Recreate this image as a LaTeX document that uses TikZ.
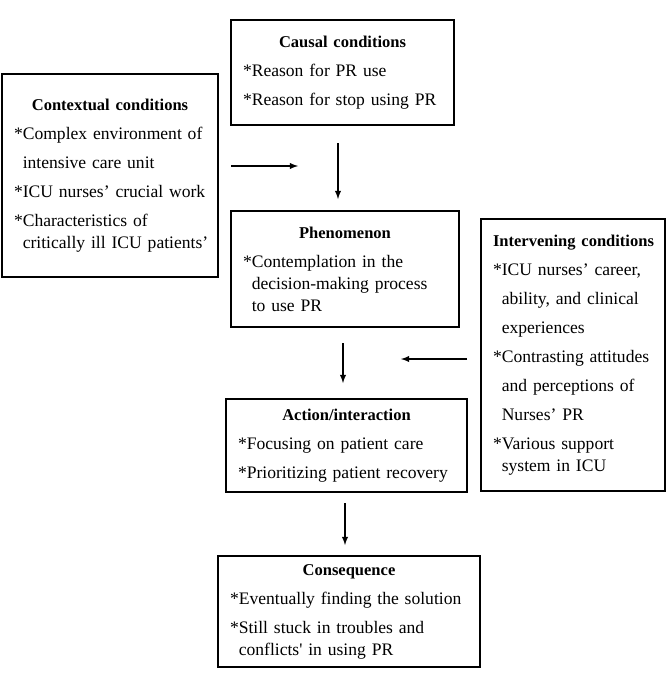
\documentclass[tikz,border=0pt]{standalone}
\usepackage{fontspec}
\setmainfont{Liberation Serif}
\usetikzlibrary{arrows}
\tikzstyle{condbox} = [rectangle, 
draw=black, 
line width=1.1pt,
inner xsep=0.24cm,
align=left,
font=\fontsize{10}{12.5}\selectfont]
\tikzstyle{arrow} = [line width=0.6pt,->,>=latex]
\newcommand{\boxtitle}[1]{\hspace*{\fill}\mbox{\bfseries\fontsize{9.4}{12.5}\selectfont #1}\hspace*{\fill}\null}
\begin{document}
\begin{tikzpicture}[x=0.02cm, y=-0.02cm]
            \useasboundingbox (0,0) rectangle (667,676);
            \node (caus) [condbox, text width=3.98cm, minimum height=2.10cm] at (342.5,72.5) {\boxtitle{Causal conditions}\\[4pt]*Reason for PR use\\[4pt]*Reason for stop using PR};
            \node (ctx) [condbox, text width=3.84cm, minimum height=4.06cm] at (110,175.5) {\boxtitle{Contextual conditions}\\[4pt]*Complex environment of\\[4pt]\phantom{*}intensive care unit\\[4pt]*ICU nurses’ crucial work\\[4pt]*Characteristics of\\\phantom{*}\mbox{critically ill ICU patients’}};
            \node (phen) [condbox, text width=4.08cm, minimum height=2.32cm] at (345,269) {\boxtitle{Phenomenon}\\[4pt]*Contemplation in the\\\phantom{*}decision-making process\\\phantom{*}to use PR};
            \node (intv) [condbox, text width=3.20cm, minimum height=5.44cm] at (573,355) {\boxtitle{Intervening conditions}\\[4pt]*ICU nurses’ career,\\[4pt]\phantom{*}ability, and clinical\\[4pt]\phantom{*}experiences\\[4pt]*Contrasting attitudes\\[4pt]\phantom{*}and perceptions of\\[4pt]\phantom{*}Nurses’ PR\\[4pt]*Various support\\\phantom{*}system in ICU};
            \node (act) [condbox, text width=4.34cm, minimum height=1.86cm] at (346.5,445.5) {\boxtitle{Action/interaction}\\[4pt]*Focusing on patient care\\[4pt]*Prioritizing patient recovery};
            \node (cons) [condbox, text width=4.76cm, minimum height=2.22cm] at (349,611.5) {\boxtitle{Consequence}\\[4pt]*Eventually finding the solution\\[4pt]*Still stuck in troubles and\\\phantom{*}conflicts\textquotesingle\ in using PR};

            \coordinate (ctx out) at (231,166);
            \coordinate (ctx in) at (298,166);
            \coordinate (caus out) at (338,143);
            \coordinate (caus in) at (338,199);
            \coordinate (phen out) at (343,343);
            \coordinate (phen in) at (343,383);
            \coordinate (intv out) at (467,359);
            \coordinate (intv in) at (401,359);
            \coordinate (act out) at (345,503);
            \coordinate (act in) at (345,545);

            \draw [arrow] (ctx out) -- (ctx in);
            \draw [arrow] (caus out) -- (caus in);
            \draw [arrow] (phen out) -- (phen in);
            \draw [arrow] (intv out) -- (intv in);
            \draw [arrow] (act out) -- (act in);
        \end{tikzpicture}
\end{document}
